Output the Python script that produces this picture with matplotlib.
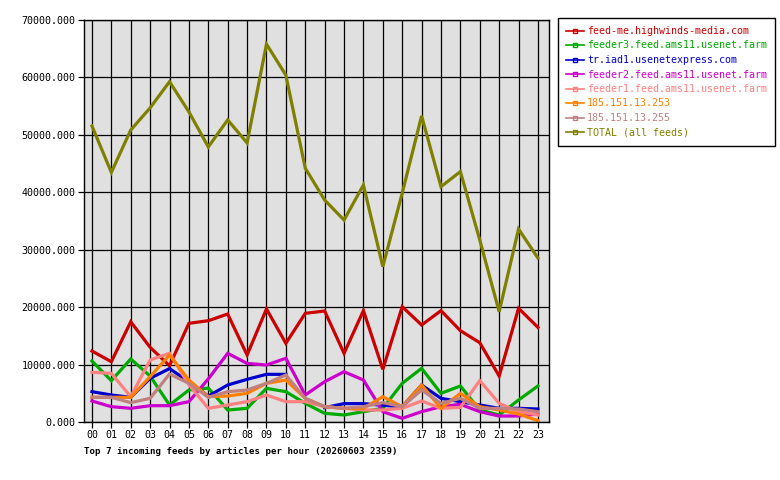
import matplotlib
matplotlib.use("Agg")
import matplotlib.pyplot as plt
import numpy as np
from matplotlib.lines import Line2D
from matplotlib.ticker import FormatStrFormatter

hours = ["%02d" % h for h in range(24)]

feed_names = [
    "feed-me.highwinds-media.com",
    "feeder3.feed.ams11.usenet.farm",
    "tr.iad1.usenetexpress.com",
    "feeder2.feed.ams11.usenet.farm",
    "feeder1.feed.ams11.usenet.farm",
    "185.151.13.253",
    "185.151.13.255",
    "TOTAL (all feeds)",
]

highwinds = [12360, 10500, 17450, 13000, 9800, 17180, 17640, 18800, 11670, 19680,
             13700, 18920, 19330, 11960, 19390, 9170, 20080, 16890, 19390, 15900,
             13810, 8000, 19800, 16480]
feeder3 = [10620, 7200, 10970, 8000, 2960, 5570, 5900, 2090, 2380, 5860,
           5280, 3250, 1510, 1220, 1800, 2380, 6730, 9340, 4990, 6270,
           2090, 1220, 3830, 6270]
usenetexpress = [5280, 4700, 4300, 7600, 9300, 7000, 4500, 6440, 7430, 8300,
                 8300, np.nan, 2500, 3200, 3200, 2900, 2670, 6440, 4120, 3540,
                 2960, 2380, 2380, 2260]
feeder2 = [3660, 2670, 2380, 2840, 2840, 3540, 7500, 11960, 10210, 9920,
           11090, 4700, 7020, 8760, 7310, 1800, 640, 1800, 2670, 3080,
           1800, 1040, 1040, 1390]
feeder1 = [8650, 8470, 4410, 10800, 11960, 6500, 2380, 2960, 3540, 4700,
           3540, 3540, 2670, 2380, 2090, 2090, 2380, 3660, 2380, 2550,
           7200, 3250, 1800, 1220]
ip_253 = [4300, 4300, 4300, 7890, 11670, 7310, 4410, 4530, 4990, 6730,
          7310, 4120, 2670, 2380, 2380, 4410, 2670, 6440, 2380, 4990,
          2670, 2090, 1390, 230]
ip_255 = [4300, 4300, 3370, 4120, 8360, 6730, 4300, 5280, 5570, 6730,
          8180, 4120, 2670, 2380, 2670, 3370, 2670, 5570, 3250, 4120,
          2380, 2380, 2260, 1800]
total = [51540, 43470, 50840, 54700, 59260, 54000, 47900, 52600, 48600, 65800,
         60400, 44200, 38650, 35170, 41270, 27050, 39860, 53300, 40980, 43600,
         31700, 19200, 33600, 28550]

series = [highwinds, feeder3, usenetexpress, feeder2, feeder1, ip_253, ip_255, total]
colors = ["#cc0000", "#00aa00", "#0000cc", "#cc00cc",
          "#ff8080", "#ff8000", "#c08080", "#808000"]

plt.rcParams["font.family"] = "DejaVu Sans Mono"
plt.rcParams["font.size"] = 7.2

fig = plt.figure(figsize=(7.8, 4.8), dpi=100)
ax = fig.add_axes([84 / 780, 58 / 480, 465 / 780, 402 / 480])
ax.set_facecolor("#e0e0e0")
ax.set_axisbelow(True)

x = np.arange(len(hours))
for vals, c in zip(series, colors):
    ax.plot(x, vals, color=c, lw=2.3, solid_joinstyle="miter")

ax.set_xlim(-0.41, 23.57)
ax.set_ylim(0, 70000)
ax.set_xticks(x)
ax.set_xticklabels(hours)
ax.set_yticks(np.arange(0, 70001, 10000))
ax.yaxis.set_major_formatter(FormatStrFormatter("%.3f"))
ax.grid(True, color="black", lw=0.9)
ax.tick_params(direction="out", length=4, width=0.9, color="black", pad=2)
for s in ax.spines.values():
    s.set_color("black")
    s.set_linewidth(1.0)

# title sits under the x axis
fig.text(84 / 780, 1 - 452 / 480, "Top 7 incoming feeds by articles per hour (20260603 2359)",
         fontweight="bold", fontsize=6.6, va="center", ha="left")

handles = [Line2D([0], [0], color=c, lw=1.2, marker="s", markersize=3,
                  markerfacecolor="none", markeredgecolor=c) for c in colors]
leg = fig.legend(handles, feed_names, loc="upper left",
                 bbox_to_anchor=(558 / 780, 1 - 18 / 480), borderaxespad=0,
                 fancybox=False, framealpha=1, edgecolor="black",
                 labelcolor="linecolor", handlelength=1.8, handletextpad=0.3,
                 labelspacing=0.45, borderpad=0.8, fontsize=7.2)
leg.get_frame().set_linewidth(1.0)

fig.savefig("out.png", dpi=100)
